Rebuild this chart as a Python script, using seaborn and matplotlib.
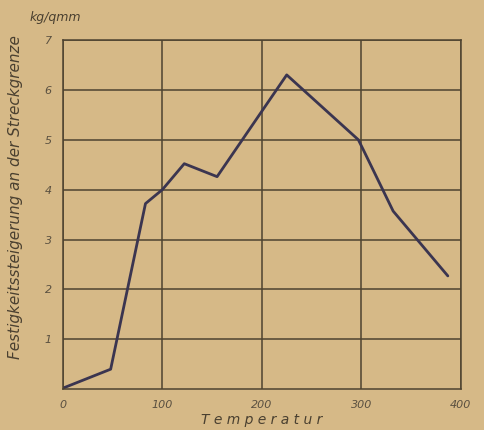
import matplotlib
matplotlib.use('Agg')
import matplotlib.pyplot as plt
import seaborn as sns

temperatur = [0, 48, 83, 100, 122, 155, 225, 297, 302, 332, 387]
steigerung = [0.02, 0.4, 3.72, 4.0, 4.52, 4.26, 6.3, 5.0, 4.8, 3.57, 2.27]

x_ticks = [0, 100, 200, 300, 400]
y_ticks = [1, 2, 3, 4, 5, 6, 7]

paper = '#d6b987'
ink = '#4e4330'

sns.set_theme(style='white')
plt.rcParams['font.family'] = ['DejaVu Sans']

fig = plt.figure(figsize=(4.84, 4.30), dpi=100)
fig.patch.set_facecolor(paper)
ax = fig.add_axes([0.130, 0.095, 0.822, 0.812])
ax.set_facecolor(paper)

sns.lineplot(x=temperatur, y=steigerung, ax=ax, color='#3b3550', linewidth=2.0)

ax.set_xlim(0, 400)
ax.set_ylim(0, 7)
ax.set_xticks(x_ticks)
ax.set_yticks(y_ticks)
ax.grid(True, color=ink, linewidth=1.1)
for s in ax.spines.values():
    s.set_color(ink)
    s.set_linewidth(1.1)

ax.set_xticklabels([str(t) for t in x_ticks], fontsize=8, style='italic', color='#5a5040')
ax.set_yticklabels([str(t) for t in y_ticks], fontsize=8, style='italic', color='#5a5040')
ax.tick_params(axis='both', length=0, pad=8)

ax.set_xlabel('T e m p e r a t u r', fontsize=10, style='italic', color='#4a4030', labelpad=2)
ax.set_ylabel('Festigkeitssteigerung an der Streckgrenze', fontsize=11, style='italic',
              color='#4a4030')
ax.yaxis.set_label_coords(-0.1, 0.55)
fig.text(0.062, 0.952, 'kg/qmm', fontsize=9, style='italic', color='#4a4030')

fig.savefig('out.png', dpi=100, facecolor=paper)
